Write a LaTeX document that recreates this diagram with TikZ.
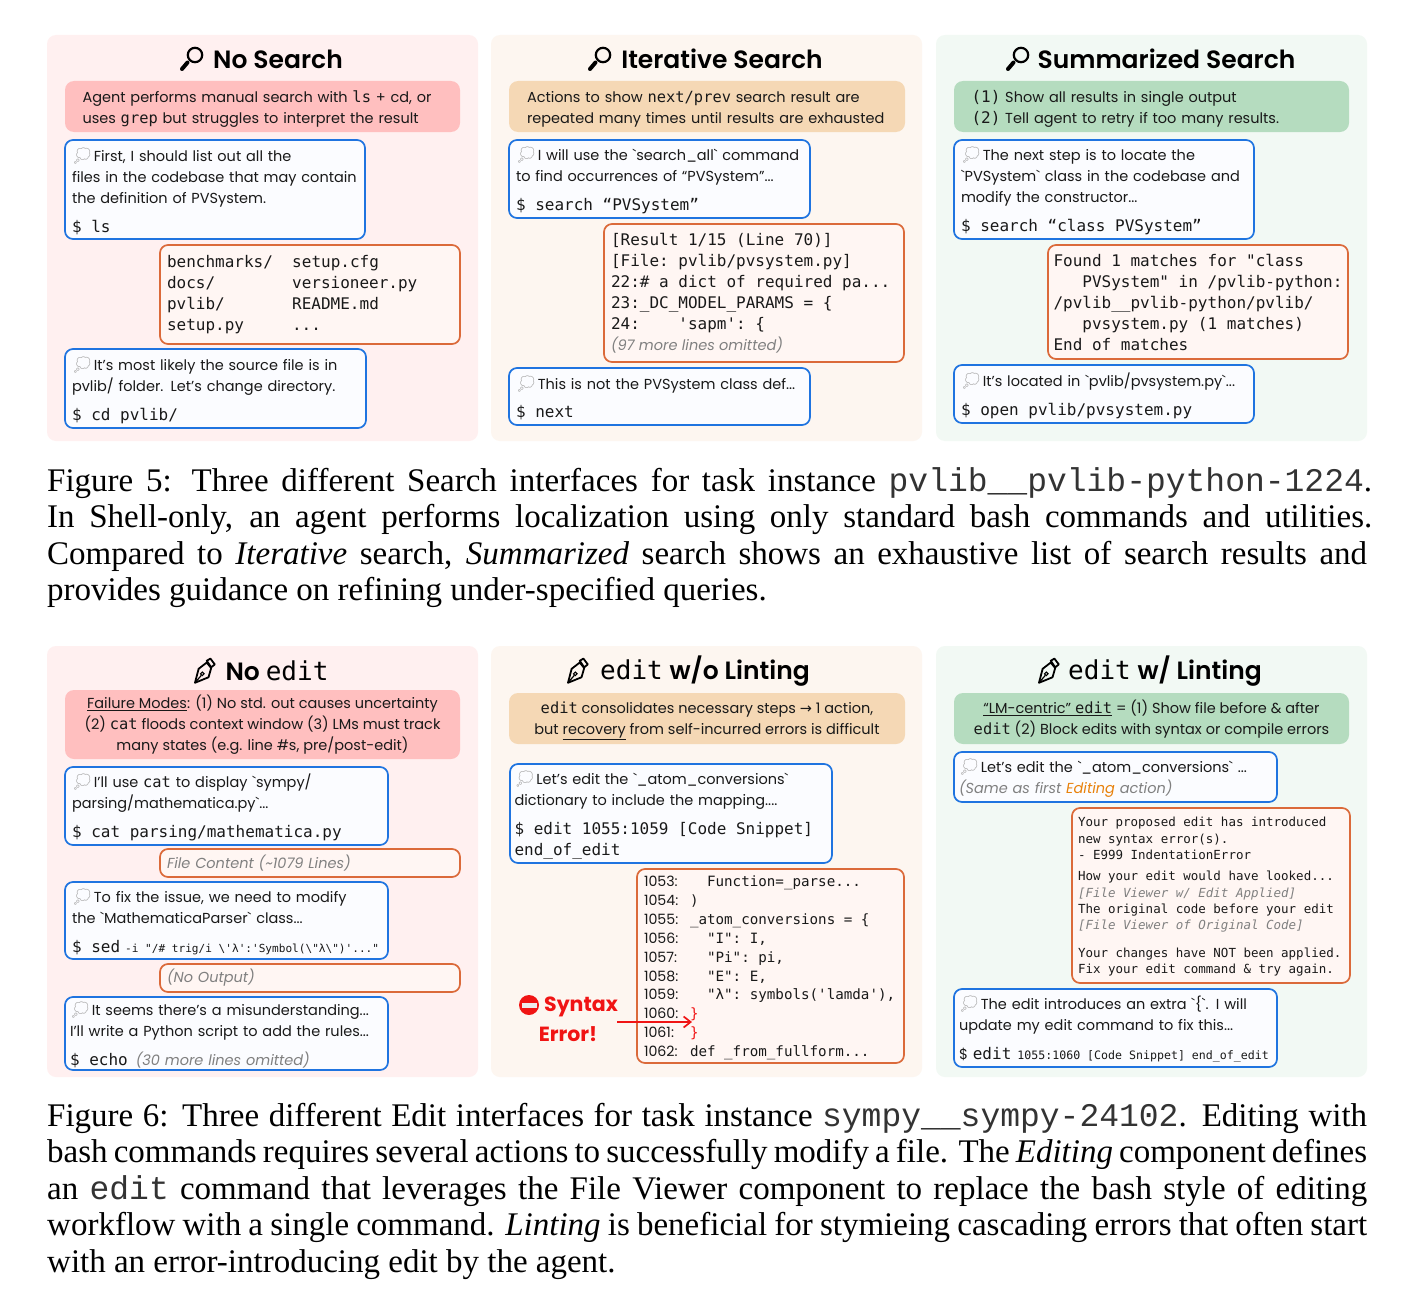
\documentclass[tikz,border=0pt]{standalone}
\usepackage{fontspec}
\usepackage{xcolor}
\usetikzlibrary{arrows.meta}
\setmainfont{Poppins}
\setmonofont{DejaVu Sans Mono}
\newfontfamily\capfont{Liberation Serif}
\newfontfamily\capmono{Liberation Mono}
\newfontfamily\emo{Noto Emoji}
\newfontfamily\djv{DejaVu Sans}
\newfontfamily\titlef{Poppins SemiBold}
\hyphenpenalty=10000
\exhyphenpenalty=10000
\definecolor{pinkbg}{HTML}{FFF0F0}
\definecolor{orangebg}{HTML}{FDF6F0}
\definecolor{greenbg}{HTML}{F2F9F4}
\definecolor{pinkhd}{HTML}{FFBFBF}
\definecolor{orangehd}{HTML}{F5D8B5}
\definecolor{greenhd}{HTML}{B5DCBF}
\definecolor{bluebd}{HTML}{1F74E0}
\definecolor{orangebd}{HTML}{DB6A3A}
\definecolor{thoughtfill}{HTML}{FBFCFF}
\definecolor{outfill}{HTML}{FFF6F3}
\definecolor{mutedgray}{HTML}{808080}
\definecolor{editorange}{HTML}{E8820C}
\definecolor{errred}{HTML}{F01414}
\newcommand{\bub}{\rule{0pt}{16.5pt}{\emo\fontsize{16}{16}\selectfont\textcolor{black!35}{💭}}\hspace{1.5pt}}
\newcommand{\bt}{\textasciigrave}
\newcommand{\gi}[1]{\textcolor{mutedgray}{\itshape #1}}
\newcommand{\bsz}{\fontsize{14.5}{21}\selectfont}
\newcommand{\noskip}{\spaceskip=0pt\relax\xspaceskip=0pt\relax}
\newcommand{\mono}{\ttfamily\fontsize{16}{21}\selectfont\noskip}
\newcommand{\cmd}[1]{{\mono #1}}
\newcommand{\inl}[1]{{\ttfamily\fontsize{15.4}{21}\selectfont\noskip #1}}
\newcommand{\cod}[1]{{\ttfamily\noskip #1}}
\tikzset{
  panelbg/.style n args={3}{anchor=north west,rounded corners=9pt,fill=#3,minimum width=431pt,minimum height=#2pt,inner sep=0pt,outer sep=0pt},
  headbox/.style n args={4}{anchor=north west,rounded corners=9pt,fill=#3,minimum width=#1pt,minimum height=#2pt,inner xsep=#4pt,inner ysep=0pt,outer sep=0pt,font=\bsz,text=black!90},
  hleft/.style={align=left,text width=360pt},
  hcenter/.style={align=center},
  cbox/.style={anchor=north west,rounded corners=8pt,line width=1.7pt,inner ysep=0pt,outer sep=0pt,align=left,font=\bsz,text=black!90},
  thoughtbox/.style 2 args={cbox,draw=bluebd,fill=thoughtfill,minimum width=#1pt,minimum height=#2pt,inner xsep=7pt,text width=#1pt-14pt},
  outbox/.style 2 args={cbox,draw=orangebd,fill=outfill,minimum width=#1pt,minimum height=#2pt,inner xsep=7pt,text width=#1pt-14pt},
  tightbox/.style 2 args={inner xsep=#1pt,text width=#2pt},
  paneltitle/.style={anchor=center,inner sep=0pt,font=\fontsize{25}{30}\selectfont,text=black},
  figcap/.style={anchor=north west,inner sep=0pt,align=left,font=\capfont\fontsize{33}{36.5}\selectfont,text=black},
  errlabel/.style={anchor=center,inner sep=0pt,text=errred,font=\bfseries\fontsize{20.5}{24}\selectfont},
  magn/.pic={
    \draw[line width=2.2pt,black] (3,-4) circle (7.2);
    \draw[line width=4pt,black,line cap=round] (-4.5,3.5) -- (-10,10);
  },
  penicon/.pic={
    \draw[line width=1.8pt,black,line join=round] (-10,10.7) -- (-6.7,-2) -- (0.7,-7.7) -- (4.7,-2.7) -- (2.3,5.7) -- cycle;
    \draw[line width=1.8pt,black,line join=round] (0.7,-9.3) -- (4,-11.3) -- (8,-6) -- (4.7,-3.3) -- cycle;
    \draw[line width=1.2pt,black] (-10,10.7) -- (-4.3,4);
    \draw[line width=1.2pt,black] (-3.4,2.6) circle (1.6);
  },
}
\begin{document}
\begin{tikzpicture}[x=1pt,y=-1pt]
\useasboundingbox (0,0) rectangle (1417,1290);
\fill[white] (0,0) rectangle (1417,1290);
% --- Figure 5 panels
\node[panelbg={431}{406}{pinkbg}] (p1) at (47,35) {};
\node[panelbg={431}{406}{orangebg}] (p2) at (491,35) {};
\node[panelbg={431}{406}{greenbg}] (p3) at (936,35) {};
\pic at (192,59) {magn};
\pic at (600,59) {magn};
\pic at (1018,59) {magn};
\node[paneltitle] (t1) at (278,59) {\titlef No Search};
\node[paneltitle] (t2) at (722,59) {\titlef Iterative Search};
\node[paneltitle] (t3) at (1166.5,59) {\titlef Summarized Search};
\node[headbox={395}{51}{pinkhd}{17},hleft] (h1) at (65,81) {\rule{0pt}{16pt}Agent performs manual search with \inl{ls} + cd, or\\uses \inl{grep} but struggles to interpret the result};
\node[headbox={396}{51}{orangehd}{18},hleft] (h2) at (509,81) {\rule{0pt}{16pt}Actions to show \inl{next/prev} search result are\\repeated many times until results are exhausted};
\node[headbox={395}{51}{greenhd}{16},hleft] (h3) at (954,81) {\rule{0pt}{16pt}\cmd{(1)} Show all results in single output\\\cmd{(2)} Tell agent to retry if too many results.};
% No Search
\node[thoughtbox={300}{99}] (a1) at (65,140) {\bub First, I should list out all the\\files in the codebase that may contain\\the definition of PVSystem.\\[8pt]\cmd{\$ ls}};
\node[outbox={300}{99}] (a2) at (160,245) {\mono benchmarks/\hspace{19.3pt}setup.cfg\\docs/\hspace{77pt}versioneer.py\\pvlib/\hspace{67.4pt}README.md\\setup.py\hspace{48pt}...};
\node[thoughtbox={301}{79}] (a3) at (65,349) {\bub It's most likely the source file is in\\pvlib/ folder. Let's change directory.\\[8pt]\cmd{\$ cd pvlib/}};
% Iterative Search
\node[thoughtbox={301}{78}] (b1) at (509,140) {\bub I will use the \bt search\_all\bt{} command\\to find occurrences of “PVSystem”...\\[8pt]\cmd{\$ search “PVSystem”}};
\node[outbox={300}{138}] (b2) at (604,224) {\mono {[}Result 1/15 (Line 70)]\\{[}File: pvlib/pvsystem.py]\\22:\# a dict of required pa...\\23:\_DC\_MODEL\_PARAMS = \{\\24:\hspace{38.5pt}'sapm': \{\\\gi{\rmfamily\fontsize{14.5}{21}\selectfont (97 more lines omitted)}};
\node[thoughtbox={301}{57}] (b3) at (509,368) {\bub This is not the PVSystem class def...\\[7pt]\cmd{\$ next}};
% Summarized Search
\node[thoughtbox={300}{99}] (c1) at (954,140) {\bub The next step is to locate the\\\bt PVSystem\bt{} class in the codebase and\\modify the constructor...\\[8pt]\cmd{\$ search “class PVSystem”}};
\node[outbox={300}{114},tightbox={5.5}{289}] (c2) at (1048,245) {\mono Found 1 matches for "class\\\hspace{28.9pt}PVSystem" in /pvlib-python:\\/pvlib\_\_pvlib-python/pvlib/\\\hspace{28.9pt}pvsystem.py (1 matches)\\End of matches};
\node[thoughtbox={300}{58}] (c3) at (954,365) {\bub It's located in \bt pvlib/pvsystem.py\bt...\\[8pt]\cmd{\$ open pvlib/pvsystem.py}};
% --- Caption 5
\node[figcap] (cap5) at (47,467) {\makebox[1325pt][s]{Figure 5: Three different Search interfaces for task instance {\capmono\color{black!80} pvlib\_\_pvlib-python-1224}.}\\\makebox[1325pt][s]{In Shell-only, an agent performs localization using only standard bash commands and utilities.}\\\makebox[1320pt][s]{Compared to \textit{Iterative} search, \textit{Summarized} search shows an exhaustive list of search results and}\\provides guidance on refining under-specified queries.};
% --- Figure 6 panels
\node[panelbg={431}{431}{pinkbg}] (p4) at (47,646) {};
\node[panelbg={431}{431}{orangebg}] (p5) at (491,646) {};
\node[panelbg={431}{431}{greenbg}] (p6) at (936,646) {};
\pic[scale=1.1] at (206,671) {penicon};
\pic[scale=1.1] at (579,671) {penicon};
\pic[scale=1.1] at (1050,671) {penicon};
\node[paneltitle] (t4) at (277,671) {\titlef No {\ttfamily\fontsize{26}{30}\selectfont edit}};
\node[paneltitle] (t5) at (705,671) {{\ttfamily\fontsize{26}{30}\selectfont edit} \titlef w/o Linting};
\node[paneltitle] (t6) at (1165,671) {{\ttfamily\fontsize{26}{30}\selectfont edit} \titlef w/ Linting};
\node[headbox={395}{69}{pinkhd}{4},hcenter] (h4) at (65,690) {\rule{0pt}{14pt}\underline{Failure Modes}: (1) No std. out causes uncertainty\\(2) \inl{cat} floods context window (3) LMs must track\\many states (e.g. line \#s, pre/post-edit)};
\node[headbox={396}{51}{orangehd}{4},hcenter] (h5) at (509,693) {\rule{0pt}{16pt}\inl{edit} consolidates necessary steps {\djv →} 1 action,\\but \underline{recovery} from self-incurred errors is difficult};
\node[headbox={395}{51}{greenhd}{4},hcenter] (h6) at (954,693) {\rule{0pt}{14pt}\underline{“LM-centric” \inl{edit}} = (1) Show file before \& after\\\inl{edit} (2) Block edits with syntax or compile errors};
% No edit
\node[thoughtbox={323}{78}] (d1) at (65,767) {\bub I'll use \inl{cat} to display \bt sympy/\\parsing/mathematica.py\bt...\\[8pt]\cmd{\$ cat parsing/mathematica.py}};
\node[outbox={300}{28}] (d2) at (160,849) {\gi{File Content (\textasciitilde 1079 Lines)}};
\node[thoughtbox={323}{77}] (d3) at (65,882) {\bub To fix the issue, we need to modify\\the \bt MathematicaParser\bt{} class...\\[8pt]\mbox{\cmd{\$ sed}\hspace{5pt}{\ttfamily\noskip\fontsize{11.1}{21}\selectfont -i "/\# trig/i \textbackslash 'λ':'Symbol(\textbackslash "λ\textbackslash ")'..."}}};
\node[outbox={300}{28}] (d4) at (160,964) {\gi{(No Output)}};
\node[thoughtbox={323}{73},tightbox={5}{313}] (d5) at (65,997) {\bub It seems there's a misunderstanding...\\I'll write a Python script to add the rules...\\[8pt]\cmd{\$ echo}\hspace{8pt}\gi{(30 more lines omitted)}};
% edit w/o Linting
\node[thoughtbox={322}{99},tightbox={4.5}{313}] (e1) at (510,764) {\bub Let's edit the \bt\_atom\_conversions\bt\\dictionary to include the mapping....\\[8pt]\cmd{\$ edit 1055:1059 [Code Snippet]}\\\cmd{end\_of\_edit}};
\node[outbox={267}{194},font=\fontsize{14.2}{18.9}\selectfont] (e2) at (637,869) {\rule{0pt}{14.5pt}\makebox[46pt][l]{1053:}\cod{\ \ Function=\_parse...}\\\makebox[46pt][l]{1054:}\cod{)}\\\makebox[46pt][l]{1055:}\cod{\_atom\_conversions = \{}\\\makebox[46pt][l]{1056:}\cod{\ \ "I": I,}\\\makebox[46pt][l]{1057:}\cod{\ \ "Pi": pi,}\\\makebox[46pt][l]{1058:}\cod{\ \ "E": E,}\\\makebox[46pt][l]{1059:}\cod{\ \ "λ": symbols('lamda'),}\\\makebox[46pt][l]{1060:}\cod{\textcolor{errred}{\}}}\\\makebox[46pt][l]{1061:}\cod{\textcolor{errred}{\}}}\\\makebox[46pt][l]{1062:}\cod{def \_from\_fullform...}};
\node[circle,fill=errred,minimum size=20pt,inner sep=0pt] (stopsign) at (529,1005) {};
\node[fill=white!85!gray,minimum width=15pt,minimum height=5pt,inner sep=0pt] (stopbar) at (stopsign.center) {};
\node[errlabel] (syn) at (581,1007) {Syntax};
\node[errlabel] (err) at (568,1034) {Error!};
\coordinate (arrA) at (617,1022);
\coordinate (arrB) at (692,1022);
\draw[errred,line width=1.7pt,-{Straight Barb[length=7pt,width=11pt]}] (arrA) -- (arrB);
% edit w/ Linting
\node[thoughtbox={323}{50},tightbox={5}{313}] (f1) at (954,752) {\bub Let's edit the \bt\_atom\_conversions\bt{} ...\\\gi{(Same as first \textcolor{editorange}{Editing} action)}};
\node[outbox={277}{175},tightbox={6}{266},font=\fontsize{12.5}{16.2}\selectfont\ttfamily] (f2) at (1072,808) {\noskip\rule{0pt}{12pt}Your proposed edit has introduced\\new syntax error(s).\\- E999 IndentationError\\[5.5pt]How your edit would have looked...\\\textcolor{mutedgray}{\itshape [File Viewer w/ Edit Applied]}\\The original code before your edit\\\textcolor{mutedgray}{\itshape [File Viewer of Original Code]}\\[11.5pt]Your changes have NOT been applied.\\Fix your edit command \& try again.};
\node[thoughtbox={323}{78},tightbox={5}{313}] (f3) at (954,989) {\bub The edit introduces an extra \bt\{\bt. I will\\update my edit command to fix this...\\[8pt]\mbox{\$ {\mono edit}\hspace{6pt}{\ttfamily\noskip\fontsize{11.6}{21}\selectfont 1055:1060 [Code Snippet] end\_of\_edit}}};
% --- Caption 6
\node[figcap] (cap6) at (47,1103) {\makebox[1320pt][s]{Figure 6: Three different Edit interfaces for task instance {\capmono\color{black!80} sympy\_\_sympy-24102}. Editing with}\\\makebox[1320pt][s]{bash commands requires several actions to successfully modify a file. The \textit{Editing} component defines}\\\makebox[1320pt][s]{an {\capmono\color{black!80} edit} command that leverages the File Viewer component to replace the bash style of editing}\\\makebox[1320pt][s]{workflow with a single command. \textit{Linting} is beneficial for stymieing cascading errors that often start}\\with an error-introducing edit by the agent.};
\end{tikzpicture}
\end{document}
